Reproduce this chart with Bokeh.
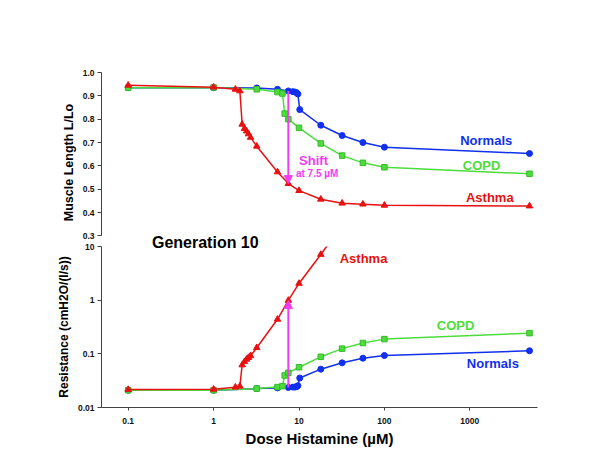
from bokeh.plotting import figure
from bokeh.models import Range1d, FixedTicker, Label, Arrow, NormalHead
from bokeh.layouts import column
from bokeh.embed import file_html
from bokeh.resources import INLINE

# ---------------- data ----------------
# Top panel: muscle length (L/Lo)
normals_dose_top = [0.1, 1, 3.2, 5.6, 7.5, 8.5, 9, 9.4, 9.7, 10.2, 18, 32, 56, 100, 5000]
normals_len = [0.935, 0.935, 0.934, 0.928, 0.921, 0.918, 0.916, 0.913, 0.908, 0.841, 0.774, 0.730, 0.700, 0.680, 0.653]

copd_dose_top = [0.1, 1, 3.2, 5.6, 6.4, 6.8, 7.5, 10, 18, 32, 56, 100, 5000]
copd_len = [0.935, 0.936, 0.928, 0.916, 0.910, 0.824, 0.800, 0.763, 0.696, 0.644, 0.613, 0.594, 0.566]

asthma_dose_top = [0.1, 1, 1.8, 2.03, 2.16, 2.3, 2.43, 2.56, 2.71, 3.2, 5.6, 7.5, 10, 18, 32, 56, 100, 5000]
asthma_len = [0.945, 0.937, 0.928, 0.921, 0.778, 0.760, 0.749, 0.737, 0.722, 0.684, 0.574, 0.524, 0.494, 0.457, 0.440, 0.436, 0.431, 0.428]

# Bottom panel: resistance cmH2O/(l/s)
normals_dose_bot = [0.1, 1, 3.2, 5.6, 7.5, 8.5, 9, 9.4, 9.7, 10.2, 18, 32, 56, 100, 5000]
normals_res = [0.021, 0.021, 0.0225, 0.0232, 0.0236, 0.024, 0.024, 0.0245, 0.0255, 0.0354, 0.0518, 0.068, 0.083, 0.093, 0.114]

copd_dose_bot = [0.1, 1, 3.2, 5.6, 6.4, 6.8, 7.5, 10, 18, 32, 56, 100, 5000]
copd_res = [0.021, 0.021, 0.0225, 0.024, 0.025, 0.0396, 0.0443, 0.0562, 0.088, 0.125, 0.159, 0.188, 0.243]

asthma_dose_bot = [0.1, 1, 1.8, 2.03, 2.16, 2.3, 2.43, 2.56, 2.71, 3.2, 5.6, 7.5, 10, 18, 32]
asthma_res = [0.0216, 0.0218, 0.0239, 0.0249, 0.062, 0.0714, 0.079, 0.085, 0.092, 0.13, 0.44, 0.99, 2.05, 7.1, 25]

shift_dose = 7.5

x_ticks = [0.1, 1, 10, 100, 1000]
x_tick_labels = ["0.1", "1", "10", "100", "1000"]
len_ticks = [0.3, 0.4, 0.5, 0.6, 0.7, 0.8, 0.9, 1.0]
len_tick_labels = ["0.3", "0.4", "0.5", "0.6", "0.7", "0.8", "0.9", "1.0"]
res_ticks = [0.01, 0.1, 1, 10]
res_tick_labels = ["0.01", "0.1", "1", "10"]

# ---------------- style ----------------
FONT = "Liberation Sans"
BLUE = "#1030EE"
GREEN = "#4CDD3C"
GREEN_EDGE = "#38B82C"
RED = "#E81010"
MAGENTA = "#F23CF2"
AXIS = "#404040"

x_range = Range1d(0.0487, 6200)


def style_axis(ax, ticks, labels, label_size, tick_out=4):
    ax.ticker = FixedTicker(ticks=ticks)
    ax.major_label_overrides = {t: s for t, s in zip(ticks, labels)}
    ax.axis_line_color = AXIS
    ax.major_tick_line_color = AXIS
    ax.major_tick_out = tick_out
    ax.major_tick_in = 0
    ax.minor_tick_line_color = None
    ax.major_label_text_font = FONT
    ax.major_label_text_font_size = "8.5px"
    ax.major_label_text_font_style = "bold"
    ax.major_label_text_color = "#111111"
    ax.major_label_standoff = 3
    ax.axis_label_text_font = FONT
    ax.axis_label_text_font_size = label_size
    ax.axis_label_text_font_style = "bold"
    ax.axis_label_text_color = "#000000"
    ax.axis_label_standoff = 4


def series(p, xs, ys, color, marker, size, edge=None):
    p.line(xs, ys, line_color=color, line_width=1.5)
    p.scatter(xs, ys, marker=marker, size=size, fill_color=color,
              line_color=edge or color, line_width=1)


def text(p, x, y, s, color, size):
    p.add_layout(Label(x=x, y=y, text=s, text_color=color, text_font=FONT,
                       text_font_size=size, text_font_style="bold",
                       text_align="center", text_baseline="middle"))


def clear(p):
    p.grid.visible = False
    p.outline_line_color = None
    p.background_fill_alpha = 0
    p.border_fill_alpha = 0


# ---------------- top panel ----------------
# frame reaches a little below 0.3 so the panel title in the gap is not clipped;
# the axis itself is bounded to 0.3 .. 1.0
p1 = figure(width=592, height=252, x_axis_type="log", x_range=x_range,
            y_range=Range1d(0.2289, 1.0), output_backend="svg", toolbar_location=None,
            min_border_left=101, min_border_right=55, min_border_top=72, min_border_bottom=0)
p1.xaxis.visible = False
clear(p1)
style_axis(p1.yaxis[0], len_ticks, len_tick_labels, "12.5px")
p1.yaxis.bounds = (len_ticks[0], len_ticks[-1])
p1.yaxis.axis_label = "Muscle Length L/Lo"
p1.margin = (0, 0, -20, 0)

series(p1, normals_dose_top, normals_len, BLUE, "circle", 6)
series(p1, copd_dose_top, copd_len, GREEN, "square", 5.5, GREEN_EDGE)
series(p1, asthma_dose_top, asthma_len, RED, "triangle", 6.5)

i_n = normals_dose_top.index(shift_dose)
i_a = asthma_dose_top.index(shift_dose)
p1.add_layout(Arrow(end=NormalHead(size=8, fill_color=MAGENTA, line_color=MAGENTA),
                    x_start=shift_dose, y_start=normals_len[i_n],
                    x_end=shift_dose, y_end=asthma_len[i_a],
                    line_color=MAGENTA, line_width=2))

text(p1, 14.8, 0.624, "Shift", MAGENTA, "13px")
text(p1, 16.3, 0.567, "at 7.5 \u00b5M", MAGENTA, "10px")
text(p1, 1556, 0.707, "Normals", BLUE, "13px")
text(p1, 1371, 0.603, "COPD", GREEN, "13px")
text(p1, 1714, 0.463, "Asthma", RED, "13px")
# panel title sits in the gap between the two panels
text(p1, 0.80, 0.270, "Generation 10", "#000000", "16px")

# ---------------- bottom panel ----------------
p2 = figure(width=592, height=217, x_axis_type="log", y_axis_type="log", x_range=x_range,
            y_range=Range1d(0.01, 10), output_backend="svg", toolbar_location=None,
            min_border_left=101, min_border_right=55, min_border_top=14, min_border_bottom=39)
clear(p2)
style_axis(p2.yaxis[0], res_ticks, res_tick_labels, "12px")
p2.yaxis.axis_label = "Resistance (cmH2O/(l/s))"
style_axis(p2.xaxis[0], x_ticks, x_tick_labels, "15px", tick_out=3)
p2.xaxis.axis_label = "Dose Histamine (\u00b5M)"
p2.xaxis.major_label_standoff = 7
p2.xaxis.axis_label_standoff = 3

series(p2, normals_dose_bot, normals_res, BLUE, "circle", 6)
series(p2, copd_dose_bot, copd_res, GREEN, "square", 5.5, GREEN_EDGE)
series(p2, asthma_dose_bot, asthma_res, RED, "triangle", 6.5)

j_n = normals_dose_bot.index(shift_dose)
j_a = asthma_dose_bot.index(shift_dose)
p2.add_layout(Arrow(end=NormalHead(size=8, fill_color=MAGENTA, line_color=MAGENTA),
                    x_start=shift_dose, y_start=normals_res[j_n],
                    x_end=shift_dose, y_end=asthma_res[j_a],
                    line_color=MAGENTA, line_width=2))

text(p2, 57, 6.0, "Asthma", RED, "13px")
text(p2, 681, 0.334, "COPD", GREEN, "13px")
text(p2, 1862, 0.0665, "Normals", BLUE, "13px")

layout = column(p1, p2)
open("out.html", "w").write(file_html(layout, INLINE))
